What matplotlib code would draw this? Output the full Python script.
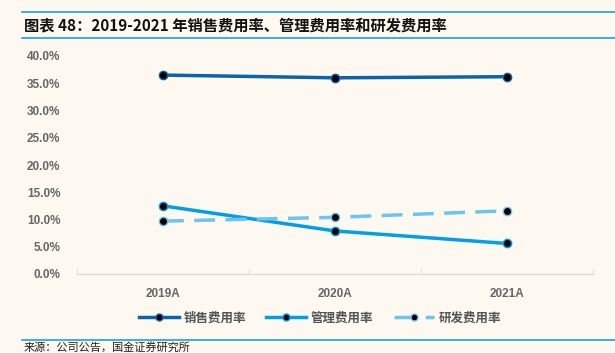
import matplotlib
matplotlib.use("Agg")
import matplotlib.pyplot as plt
from matplotlib.lines import Line2D

plt.rcParams['font.family'] = ['Noto Sans CJK SC', 'DejaVu Sans']

years = ["2019A", "2020A", "2021A"]
sales_rate = [36.5, 36.0, 36.2]
admin_rate = [12.5, 7.9, 5.6]
rd_rate = [9.7, 10.4, 11.6]
yticks = [0, 5, 10, 15, 20, 25, 30, 35, 40]

bg = "#FDF9F0"
c_sales = "#0A64AD"
c_admin = "#00A0E9"
c_rd = "#6DC3F2"

fig = plt.figure(figsize=(6.15, 3.53), dpi=100, facecolor=bg)
ax = fig.add_axes([77/615, 1 - 274/353, (593 - 77)/615, (274 - 56)/353], facecolor=bg)

x = range(len(years))
mk = dict(marker='o', markersize=6, markerfacecolor='black')
ax.plot(x, sales_rate, color=c_sales, lw=2.5, markeredgecolor=c_sales, **mk)
ax.plot(x, admin_rate, color=c_admin, lw=2.5, markeredgecolor=c_admin, **mk)
ax.plot(x, rd_rate, color=c_rd, lw=2.5, dashes=(6, 3), markeredgecolor=c_rd, **mk)

ax.set_xlim(-0.5, 2.5)
ax.set_ylim(0, 40)
ax.set_yticks(yticks)
ax.set_yticklabels(["{:.1f}%".format(v) for v in yticks], fontsize=8.5, color="#666666",
                   family=['Liberation Sans', 'DejaVu Sans'], fontweight='bold')
ax.set_xticks(list(x))
ax.set_xticklabels(years, fontsize=8.5, color="#666666", family=['Liberation Sans', 'DejaVu Sans'],
                   fontweight='bold')
ax.set_xticks([-0.5, 0.5, 1.5, 2.5], minor=True)
ax.tick_params(axis='x', which='major', length=0, pad=10)
ax.tick_params(axis='x', which='minor', length=4, color="#D9D9D9", direction='in')
ax.tick_params(axis='y', length=0, pad=12)
for s in ['top', 'right', 'left']:
    ax.spines[s].set_visible(False)
ax.spines['bottom'].set_color("#D9D9D9")

handles = [
    Line2D([], [], color=c_sales, lw=2.5, marker='o', markersize=5, markerfacecolor='black', markeredgecolor=c_sales),
    Line2D([], [], color=c_admin, lw=2.5, marker='o', markersize=5, markerfacecolor='black', markeredgecolor=c_admin),
    Line2D([], [], color=c_rd, lw=2.5, dashes=(6, 3), marker='o', markersize=5, markerfacecolor='black', markeredgecolor=c_rd),
]
fig.legend(handles, ["销售费用率", "管理费用率", "研发费用率"], loc='center', bbox_to_anchor=(0.52, 1 - 318/353),
           ncol=3, frameon=False, handlelength=3.2, columnspacing=1.6, handletextpad=0.4,
           labelcolor="#555555", prop={'weight': 'bold', 'size': 9})

# title block
fig.add_artist(Line2D([22/615, 1], [1 - 12/353] * 2, color="#1BA1E2", lw=1.2))
fig.add_artist(Line2D([22/615, 1], [1 - 38/353] * 2, color="#1BA1E2", lw=1.2))
fig.text(24/615, 1 - 25/353, "图表 48：2019-2021 年销售费用率、管理费用率和研发费用率",
         fontsize=11, fontweight='bold', style='italic', va='center', color="#111111")

# source
fig.add_artist(Line2D([22/615, 1], [1 - 340/353] * 2, color="#1BA1E2", lw=1.2))
fig.text(24/615, 1 - 347/353, "来源：公司公告，国金证券研究所", fontsize=8, va='center', color="#222222")

fig.savefig("out.png", dpi=100, facecolor=bg)
